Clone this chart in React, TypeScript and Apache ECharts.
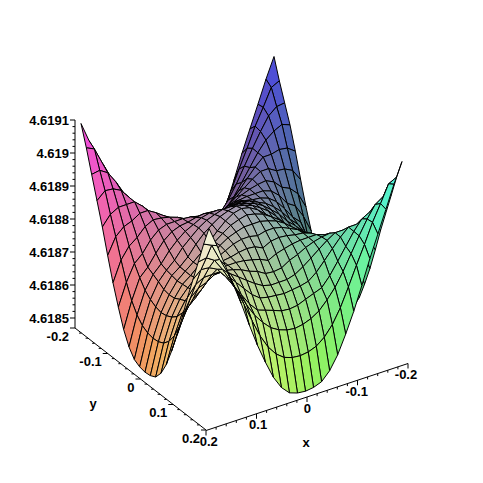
import React, { useEffect, useRef } from "react";
import * as echarts from "echarts";

// surface heights: z = 4.618 + value * 1e-6, rows run y = -0.2 .. 0.2, columns x = -0.2 .. 0.2
const zRows = [
  [1100,1039,971,904,837,763,693,632,577,537,512,503,500,503,512,537,577,632,693,763,837,904,971,1039,1100],
  [1039,1027,975,926,867,812,754,699,656,626,607,598,595,598,607,626,656,699,754,812,867,926,975,1027,1039],
  [985,982,962,923,880,834,788,748,718,693,678,669,665,669,678,693,718,748,788,834,880,923,959,975,971],
  [931,941,929,910,880,843,806,770,742,733,724,714,711,714,724,733,742,770,806,843,880,910,923,926,904],
  [864,882,886,880,880,858,831,803,776,757,751,748,745,748,751,757,776,803,831,858,880,880,880,867,837],
  [790,827,840,843,858,858,843,825,806,788,773,766,766,766,773,788,806,825,843,858,858,843,834,812,763],
  [720,769,794,806,831,843,840,834,825,812,803,788,785,788,803,812,825,834,840,843,831,806,788,754,693],
  [659,714,754,770,803,825,834,834,834,831,825,818,806,818,825,831,834,834,834,825,803,770,748,699,632],
  [577,656,718,742,776,806,825,834,837,843,846,843,831,843,846,843,837,834,825,806,776,742,718,656,577],
  [537,626,693,733,757,788,812,831,843,855,861,861,855,861,861,855,843,831,812,788,757,733,693,626,537],
  [512,607,678,724,751,773,803,825,846,861,870,877,877,877,870,861,846,825,803,773,751,724,678,607,512],
  [503,598,669,714,748,766,788,818,843,861,877,886,892,886,877,861,843,818,788,766,748,714,669,598,503],
  [500,595,665,711,745,766,785,806,831,855,877,892,898,892,877,855,831,806,785,766,745,711,665,595,500],
  [503,598,669,714,748,766,788,818,843,861,877,886,892,886,877,861,843,818,788,766,748,714,669,598,503],
  [512,607,678,724,751,773,803,825,846,861,870,877,877,877,870,861,846,825,803,773,751,724,678,607,512],
  [537,626,693,733,757,788,812,831,843,855,861,861,855,861,861,855,843,831,812,788,757,733,693,626,537],
  [577,656,718,742,776,806,825,834,837,843,846,843,831,843,846,843,837,834,825,806,776,742,718,656,577],
  [632,699,748,770,803,825,834,834,834,831,825,818,806,818,825,831,834,834,834,825,803,770,748,699,632],
  [693,754,788,806,831,843,840,834,825,812,803,788,785,788,803,812,825,834,840,843,831,806,788,754,693],
  [763,812,834,843,858,858,843,825,806,788,773,766,766,766,773,788,806,825,843,858,858,843,834,812,763],
  [837,867,880,880,880,858,831,803,776,757,751,748,745,748,751,757,776,803,831,858,880,880,880,867,837],
  [904,926,923,910,880,843,806,770,742,733,724,714,711,714,724,733,742,770,806,843,880,910,923,926,904],
  [971,975,959,923,880,834,788,748,718,693,678,669,665,669,678,693,718,748,788,834,880,923,959,975,971],
  [1039,1027,975,926,867,812,754,699,656,626,607,598,595,598,607,626,656,699,754,812,867,926,975,1027,1039],
  [1100,1039,971,904,837,763,693,632,577,537,512,503,500,503,512,537,577,632,693,763,837,904,971,1039,1100],
];

const xTickLabels = ["-0.2", "-0.1", "0", "0.1", "0.2"];
const yTickLabels = ["-0.2", "-0.1", "0", "0.1", "0.2"];
const zTickLabels = ["4.6185", "4.6186", "4.6187", "4.6188", "4.6189", "4.619", "4.6191"];
const xTicks = [-0.2, -0.18, -0.16, -0.14, -0.12, -0.1, -0.08, -0.06, -0.04, -0.02, 0, 0.02, 0.04, 0.06, 0.08, 0.1, 0.12, 0.14, 0.16, 0.18, 0.2];
const yTicks = xTicks;
const zTicks = [4.6185, 4.61852, 4.61854, 4.61856, 4.61858, 4.6186, 4.61862, 4.61864, 4.61866, 4.61868, 4.6187, 4.61872, 4.61874, 4.61876, 4.61878, 4.6188, 4.61882, 4.61884, 4.61886, 4.61888, 4.6189, 4.61892, 4.61894, 4.61896, 4.61898, 4.619, 4.61902, 4.61904, 4.61906, 4.61908, 4.6191];

const FONT = 'bold 13px "Liberation Sans", Arial, sans-serif';
const N = 24;

// surface projection (orthographic view of the plot box)
function project(x: number, y: number, n: number) {
  const u = x / 0.2;
  const v = y / 0.2;
  return [241.5 - 96.5 * u + 64 * v, 142.5 + 33.5 * u + 52.5 * v + (1100 - n) * 0.327];
}
const xAxisPos = (x: number) => [307 - 505 * x, 397 + 167.5 * x];
const yAxisPos = (y: number) => [140.5 + 327.5 * y, 379 + 255 * y];
const zAxisPos = (z: number) => [75, 318 - (z - 4.6185) * 330000];

const shade = (x: number, y: number, n: number) => {
  const r = Math.round(160 + 425 * x);
  const g = Math.round(160 + 425 * y);
  const b = Math.round(85 + ((n - 500) / 600) * 140);
  return `rgb(${r},${g},${b})`;
};

const cells: number[][] = [];
for (let r = 0; r < N; r++) for (let c = 0; c < N; c++) cells.push([c, r]);

const gx = (c: number) => -0.2 + (0.4 * c) / N;

export default function App() {
  const ref = useRef<HTMLDivElement>(null);
  useEffect(() => {
    document.body.style.margin = "0";
    const chart = echarts.init(ref.current!, undefined, { renderer: "svg" });
    const axisSeries = (data: number[], pos: (t: number) => number[], dir: number[], step: number) => ({
      type: "custom",
      coordinateSystem: "cartesian2d",
      silent: true,
      data: data.map((t) => [t]),
      encode: { x: 0 },
      renderItem: (params: any, api: any) => {
        const t = api.value(0);
        const p = api.coord(pos(t));
        const major = Math.abs(t / step - Math.round(t / step)) < 1e-6;
        const len = major ? 5 : 2.5;
        return {
          type: "line",
          shape: { x1: p[0], y1: p[1], x2: p[0] + dir[0] * len, y2: p[1] + dir[1] * len },
          style: { stroke: "#000", lineWidth: 1 },
        };
      },
    });
    const labelSeries = (labels: string[], pos: (i: number) => number[], align: string) => ({
      type: "custom",
      coordinateSystem: "cartesian2d",
      silent: true,
      data: labels.map((_, i) => [i]),
      encode: { x: 0 },
      renderItem: (params: any, api: any) => {
        const i = api.value(0);
        const p = api.coord(pos(i));
        return {
          type: "text",
          x: p[0],
          y: p[1],
          style: { text: labels[i], font: FONT, fill: "#000", textAlign: align, textVerticalAlign: "middle" },
        };
      },
    });
    chart.setOption({
      animation: false,
      backgroundColor: "#fff",
      grid: { left: 0, right: 0, top: 0, bottom: 0 },
      xAxis: { type: "value", min: 0, max: 483, show: false },
      yAxis: { type: "value", min: 0, max: 483, inverse: true, show: false },
      series: [
        {
          type: "custom",
          coordinateSystem: "cartesian2d",
          silent: true,
          data: [[0]],
          encode: { x: 0 },
          renderItem: (params: any, api: any) => ({
            type: "group",
            children: [
              [xAxisPos(-0.2), xAxisPos(0.2)],
              [yAxisPos(-0.2), yAxisPos(0.2)],
              [zAxisPos(4.6191), [75, 328]],
            ].map(([a, b]) => {
              const p = api.coord(a);
              const q = api.coord(b);
              return { type: "line", shape: { x1: p[0], y1: p[1], x2: q[0], y2: q[1] }, style: { stroke: "#000", lineWidth: 1 } };
            }),
          }),
        },
        axisSeries(xTicks, xAxisPos, [0, 1], 0.1),
        axisSeries(yTicks, yAxisPos, [-1, 0], 0.1),
        axisSeries(zTicks, zAxisPos, [-1, 0], 0.0001),
        labelSeries(zTickLabels, (i) => [69, 318 - 33 * i], "right"),
        labelSeries(xTickLabels, (i) => {
          const p = xAxisPos(-0.2 + 0.1 * i);
          return [p[0] - 2 + 1.2 * i, p[1] + 11];
        }, "center"),
        labelSeries(yTickLabels, (i) => {
          const p = yAxisPos(-0.2 + 0.1 * i);
          return [p[0] - 6, p[1] + 8];
        }, "right"),
        labelSeries(["x"], () => [306, 442], "center"),
        labelSeries(["y"], () => [93, 403], "center"),
        {
          type: "custom",
          coordinateSystem: "cartesian2d",
          silent: true,
          z: 5,
          data: cells,
          encode: { x: 0, y: 1 },
          renderItem: (params: any, api: any) => {
            const c = api.value(0);
            const r = api.value(1);
            const corners = [
              [c, r],
              [c + 1, r],
              [c + 1, r + 1],
              [c, r + 1],
            ];
            const points = corners.map(([cc, rr]) => api.coord(project(gx(cc), gx(rr), zRows[rr][cc])));
            const meanN = corners.reduce((s, [cc, rr]) => s + zRows[rr][cc], 0) / 4;
            return {
              type: "polygon",
              shape: { points },
              style: { fill: shade(gx(c + 0.5), gx(r + 0.5), meanN), stroke: "#000", lineWidth: 1 },
            };
          },
        },
      ],
    });
    return () => chart.dispose();
  }, []);
  return <div ref={ref} style={{ width: 483, height: 483, position: "absolute", left: 0, top: 0 }} />;
}
